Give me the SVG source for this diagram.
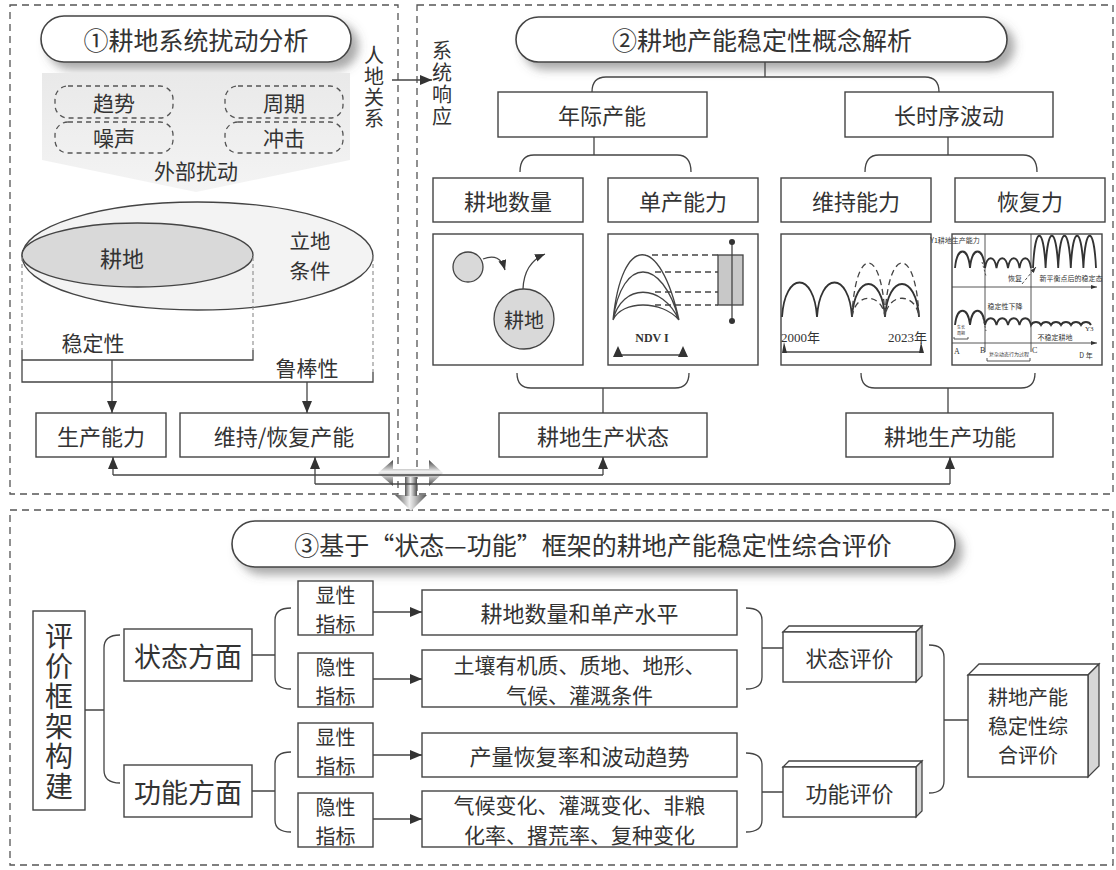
<svg xmlns="http://www.w3.org/2000/svg" width="1116" height="870" viewBox="0 0 1116 870">
<defs>
<style>
.t{font-family:"Noto Sans CJK SC","Noto Sans",sans-serif;fill:#333;text-anchor:middle;dominant-baseline:central}
.v{writing-mode:vertical-rl}
.s{font-family:"Liberation Serif","Noto Sans CJK SC",serif;fill:#333;dominant-baseline:central}
.f25{font-size:25px}.f22{font-size:22px}.f21{font-size:21px}.f20{font-size:20px}.f27{font-size:27px}.f28{font-size:28px}
.f7{font-size:7px}.f4{font-size:4px}.f5{font-size:5px}
.box{fill:#fff;stroke:#444;stroke-width:1.4}
.pill{fill:#fff;stroke:#444;stroke-width:1.6}
.panel{fill:none;stroke:#555;stroke-width:1.3;stroke-dasharray:7 5}
.ln{fill:none;stroke:#444;stroke-width:1.3}
.dash{fill:none;stroke:#444;stroke-width:1.3;stroke-dasharray:6 4}
.gdash{fill:none;stroke:#8a8a8a;stroke-width:1.1;stroke-dasharray:4 3}
.rbox{fill:none;stroke:#555;stroke-width:1.3;stroke-dasharray:5 4}
.wave{fill:none;stroke:#333;stroke-width:1.8}
.thin{fill:none;stroke:#444;stroke-width:0.9}
</style>
<marker id="ah" markerUnits="userSpaceOnUse" markerWidth="12" markerHeight="10" refX="12" refY="5" orient="auto"><path d="M0,0 L12,5 L0,10 Z" fill="#333"/></marker>
<marker id="ahs" markerUnits="userSpaceOnUse" markerWidth="10" markerHeight="8" refX="10" refY="4" orient="auto"><path d="M0,0 L10,4 L0,8 Z" fill="#333"/></marker>
<marker id="aht" markerUnits="userSpaceOnUse" markerWidth="6" markerHeight="4" refX="6" refY="2" orient="auto"><path d="M0,0 L6,2 L0,4 Z" fill="#333"/></marker>
<filter id="sh" x="-10%" y="-50%" width="125%" height="220%"><feDropShadow dx="7" dy="7" stdDeviation="5" flood-color="#555" flood-opacity="0.5"/></filter>
<linearGradient id="gArea" x1="0" y1="0" x2="0" y2="1"><stop offset="0" stop-color="#e9e9e9"/><stop offset="1" stop-color="#f4f4f4"/></linearGradient>
<linearGradient id="gH" x1="0" y1="0" x2="0" y2="1"><stop offset="0" stop-color="#3f3f3f"/><stop offset="0.45" stop-color="#f2f2f2"/><stop offset="0.6" stop-color="#d0d0d0"/><stop offset="1" stop-color="#4a4a4a"/></linearGradient>
<linearGradient id="gV" x1="0" y1="0" x2="1" y2="0"><stop offset="0" stop-color="#555"/><stop offset="0.45" stop-color="#f0f0f0"/><stop offset="0.6" stop-color="#c8c8c8"/><stop offset="1" stop-color="#505050"/></linearGradient>
</defs>
<rect x="0" y="0" width="1116" height="870" fill="#fff"/>

<!-- panels -->
<g id="panels">
<rect class="panel" x="10" y="5" width="388" height="489"/>
<rect class="panel" x="417" y="5" width="696" height="489"/>
<rect class="panel" x="10" y="510" width="1103" height="355"/>
</g>

<!-- ===== Panel 1 ===== -->
<g id="title1">
<rect class="pill" x="41" y="16" width="310" height="46" rx="23" filter="url(#sh)"/>
<text class="t f25" x="196" y="39">①耕地系统扰动分析</text>
</g>
<g id="disturbance">
<polygon points="42,73 350,73 350,160 196,192 42,160" fill="url(#gArea)"/>
<rect class="rbox" x="55" y="86" width="118" height="32" rx="13"/>
<rect class="rbox" x="225" y="86" width="118" height="32" rx="13"/>
<rect class="rbox" x="55" y="122" width="118" height="31" rx="13"/>
<rect class="rbox" x="225" y="122" width="118" height="31" rx="13"/>
<text class="t f21" x="114" y="102">趋势</text>
<text class="t f21" x="284" y="102">周期</text>
<text class="t f21" x="114" y="137">噪声</text>
<text class="t f21" x="284" y="137">冲击</text>
<text class="t f21" x="196" y="170">外部扰动</text>
</g>
<g id="renDi">
<text class="t v f20" letter-spacing="1" x="374" y="87">人地关系</text>
</g>
<g id="xitong">
<text class="t v f20" letter-spacing="2" x="442" y="84">系统响应</text>
</g>
<g id="ellipses">
<ellipse cx="197.5" cy="256" rx="175.5" ry="54" fill="#f3f3f3" stroke="#444" stroke-width="1.3"/>
<ellipse cx="137.5" cy="255" rx="115.5" ry="32" fill="#d9d9d9" stroke="#444" stroke-width="1.3"/>
<text class="t f22" x="122" y="257">耕地</text>
<text class="t" font-size="20.5"><tspan x="310" y="240">立地</tspan><tspan x="310" y="270">条件</tspan></text>
</g>
<g id="stability">
<path class="gdash" d="M22,257 V350 M253,257 V350 M373,257 V372"/>
<path class="ln" d="M22,350 V382 H373 V372 M22,360 H253 V350"/>
<text class="t f21" x="93" y="342">稳定性</text>
<text class="t f21" x="307" y="367">鲁棒性</text>
</g>
<g id="shengchan">
<rect class="box" x="36" y="413" width="130" height="44"/>
<text class="t f22" x="101" y="435">生产能力</text>
</g>
<g id="weichi">
<rect class="box" x="180" y="413" width="209" height="44"/>
<text class="t f22" x="284" y="435">维持/恢复产能</text>
</g>

<!-- ===== Panel 2 ===== -->
<g id="title2">
<rect class="pill" x="516" y="17" width="491" height="45" rx="22.5" filter="url(#sh)"/>
<text class="t f25" x="762" y="39">②耕地产能稳定性概念解析</text>
</g>
<g id="nianji"><rect class="box" x="498" y="92" width="209" height="45"/><text class="t f22" x="602" y="114">年际产能</text></g>
<g id="changshi"><rect class="box" x="845" y="92" width="208" height="45"/><text class="t f22" x="949" y="114">长时序波动</text></g>
<g id="gengdi-shuliang"><rect class="box" x="433" y="178" width="150" height="44"/><text class="t f22" x="508" y="200">耕地数量</text></g>
<g id="danchan"><rect class="box" x="608" y="178" width="150" height="44"/><text class="t f22" x="683" y="200">单产能力</text></g>
<g id="weichi-nengli"><rect class="box" x="781" y="178" width="150" height="44"/><text class="t f22" x="856" y="200">维持能力</text></g>
<g id="huifuli"><rect class="box" x="955" y="178" width="150" height="44"/><text class="t f22" x="1030" y="200">恢复力</text></g>

<g id="chart1">
<rect class="box" x="433" y="234" width="150" height="131"/>
<circle cx="468" cy="267" r="15" fill="#d9d9d9" stroke="#444" stroke-width="1.3"/>
<path class="ln" d="M483,259 Q500,252 505,270" marker-end="url(#ahs)"/>
<circle cx="524" cy="319" r="30" fill="#d9d9d9" stroke="#444" stroke-width="1.3"/>
<text class="t" font-size="20" x="524" y="319">耕地</text>
<path class="ln" d="M523,289 Q524,263 545,254" marker-end="url(#ahs)"/>
</g>
<g id="chart2">
<rect class="box" x="608" y="234" width="150" height="131"/>
<path class="ln" d="M613,320 C622,233 660,233 679,320 M613,320 C622,256 662,256 679,320 M613,320 C622,283 662,283 679,320 M613,320 C622,300 662,300 679,320"/>
<path class="dash" d="M652,255 H718 M655,272 H718 M655,292 H718 M655,305 H718"/>
<rect x="718" y="255" width="25" height="50" fill="#c8c8c8" stroke="#444" stroke-width="1.3"/>
<path class="ln" d="M732,242 V321"/>
<circle cx="732" cy="242" r="3" fill="#333"/>
<circle cx="732" cy="321" r="3" fill="#333"/>
<text class="s" font-size="12" font-weight="bold" fill="#555" text-anchor="middle" x="652" y="338">NDV I</text>
<path class="ln" d="M618,355 H683"/>
<path d="M618,346 L613,357 L623,357 Z M683,346 L678,357 L688,357 Z" fill="#333"/>
</g>
<g id="chart3">
<rect class="box" x="781" y="234" width="150" height="131"/>
<path class="wave" stroke-width="1.6" d="M782,317 C785,271 814,271 817,317 C820,271 849,271 852,317 C855,273 882,273 885,317 C888,273 916,273 919,317"/>
<path class="dash" stroke-width="1.5" d="M852,317 C855,245 882,245 885,317 C888,245 916,245 919,317 M852,317 C855,292 882,292 885,317 C888,292 916,292 919,317"/>
<text class="s" font-size="13" x="781" y="337">2000年</text>
<text class="s" font-size="13" text-anchor="end" x="927" y="337">2023年</text>
<path class="ln" d="M784,352 H921"/>
<path d="M784,342 L782,353 L787,353 Z M921,342 L919,353 L924,353 Z" fill="#333"/>
</g>
<g id="chart4">
<rect class="box" x="952" y="234" width="150" height="131"/>
<path class="thin" d="M985,234 V352 M1031,234 V352"/>
<path class="thin" d="M952,287 H1097" marker-end="url(#aht)"/>
<path class="thin" d="M952,343 H1097" marker-end="url(#aht)"/>
<path class="wave" d="M955,268 C957,246 968,246 970,268 C972,246 983,246 985,268 C987,255 994.5,255 996.5,268 C998.5,255 1006,255 1008,268 C1010,255 1017.5,255 1019.5,268 C1021.5,255 1029,255 1031,268"/>
<path class="wave" d="M1033,268 C1035,225 1043.6,225 1045.6,268 C1047.6,225 1056.2,225 1058.2,268 C1060.2,225 1068.8,225 1070.8,268 C1072.8,225 1081.4,225 1083.4,268 C1085.4,225 1094,225 1096,268"/>
<path class="wave" d="M955,325 C957,306 968,306 970,325 C972,306 983,306 985,325 C987,316 994.5,316 996.5,325 C998.5,316 1006,316 1008,325 C1010,316 1017.5,316 1019.5,325 C1021.5,316 1029,316 1031,325 C1033,321 1039,321 1041,325 C1043,321 1049,321 1051,325 C1053,321 1059,321 1061,325 C1063,321 1069,321 1071,325 C1073,321 1079,321 1081,325 C1083,321 1089,321 1091,325"/>
<path class="thin" stroke-dasharray="2 2" d="M982,262 L986,276 M983,318 L986,331"/>
<path class="thin" stroke-dasharray="3 2" d="M1022,284 L1036,267" marker-end="url(#aht)"/>
<text class="t f7" text-anchor="start" x="955" y="240">Y1耕地生产能力</text>
<text class="t f7" x="1015" y="278">恢复</text>
<text class="t f7" x="1071" y="278">新平衡点后的稳定态</text>
<text class="t f7" x="1005" y="306">稳定性下降</text>
<text class="t f4"><tspan x="961" y="327">生长</tspan><tspan x="961" y="333">周期</tspan></text>
<path class="thin" d="M954,337 V339 H968 V337"/>
<text class="t f7" x="1055" y="337">不稳定耕地</text>
<text class="s f7" x="1085" y="329">Y3</text>
<text class="s" font-size="8" x="954" y="351">A</text>
<text class="s" font-size="8" x="980" y="350">B</text>
<text class="s" font-size="8" x="1032" y="350">C</text>
<text class="t f7" text-anchor="start" x="1086" y="355">D 年</text>
<text class="t f5" x="1009" y="353">复杂动态行为过程</text>
<path class="thin" d="M987,358 V361 H1030 V358"/>
</g>
<g id="zhuangtai"><rect class="box" x="499" y="413" width="208" height="44"/><text class="t f22" x="603" y="435">耕地生产状态</text></g>
<g id="gongneng"><rect class="box" x="846" y="413" width="207" height="44"/><text class="t f22" x="950" y="435">耕地生产功能</text></g>

<!-- big 3D arrow -->
<g id="bigArrow">
<polygon points="395,495 427,495 411,511" fill="url(#gV)"/>
<rect x="405" y="474" width="12" height="22" fill="url(#gV)"/>
<polygon points="378,473 393,460 393,469 429,469 429,460 443,473 429,486 429,477 393,477 393,486" fill="url(#gH)"/>
</g>

<!-- ===== Panel 3 ===== -->
<g id="title3">
<rect class="pill" x="232" y="521" width="723" height="46" rx="23" filter="url(#sh)"/>
<text class="t f25" x="593" y="544">③基于“状态—功能”框架的耕地产能稳定性综合评价</text>
</g>
<g id="pingjia">
<rect class="box" x="33" y="611" width="52" height="199"/>
<text class="t v f28" letter-spacing="2" x="59" y="712">评价框架构建</text>
</g>
<g id="zhuangtai-fangmian"><rect class="box" x="124" y="629" width="128" height="52"/><text class="t f27" x="188" y="655">状态方面</text></g>
<g id="gongneng-fangmian"><rect class="box" x="124" y="765" width="128" height="52"/><text class="t f27" x="188" y="791">功能方面</text></g>
<g id="xian1"><rect class="box" x="298" y="581" width="75" height="54"/><text class="t f20"><tspan x="335.5" y="593.5">显性</tspan><tspan x="335.5" y="622.5">指标</tspan></text></g>
<g id="yin1"><rect class="box" x="298" y="653" width="75" height="54"/><text class="t f20"><tspan x="335.5" y="665.5">隐性</tspan><tspan x="335.5" y="694.5">指标</tspan></text></g>
<g id="xian2"><rect class="box" x="298" y="723" width="75" height="54"/><text class="t f20"><tspan x="335.5" y="735.5">显性</tspan><tspan x="335.5" y="764.5">指标</tspan></text></g>
<g id="yin2"><rect class="box" x="298" y="793" width="75" height="54"/><text class="t f20"><tspan x="335.5" y="805.5">隐性</tspan><tspan x="335.5" y="834.5">指标</tspan></text></g>
<g id="c1"><rect class="box" x="422" y="590" width="315" height="45"/><text class="t f22" x="579.5" y="612">耕地数量和单产水平</text></g>
<g id="c2"><rect class="box" x="422" y="650" width="315" height="57"/><text class="t" font-size="21"><tspan x="579.5" y="663.5">土壤有机质、质地、地形、</tspan><tspan x="579.5" y="693.5">气候、灌溉条件</tspan></text></g>
<g id="c3"><rect class="box" x="422" y="733" width="315" height="44"/><text class="t f22" x="579.5" y="755">产量恢复率和波动趋势</text></g>
<g id="c4"><rect class="box" x="422" y="791" width="315" height="56"/><text class="t" font-size="21"><tspan x="579.5" y="804">气候变化、灌溉变化、非粮</tspan><tspan x="579.5" y="834">化率、撂荒率、复种变化</tspan></text></g>
<g id="eval-state">
<polygon points="783,632 789,626 922,626 916,632" fill="#fff" stroke="#444" stroke-width="1.3"/>
<polygon points="916,632 922,626 922,676 916,682" fill="#d6d6d6" stroke="#444" stroke-width="1.3"/>
<rect class="box" x="783" y="632" width="133" height="50"/>
<text class="t f22" x="849.5" y="657">状态评价</text>
</g>
<g id="eval-func">
<polygon points="783,767 789,761 922,761 916,767" fill="#fff" stroke="#444" stroke-width="1.3"/>
<polygon points="916,767 922,761 922,811 916,817" fill="#d6d6d6" stroke="#444" stroke-width="1.3"/>
<rect class="box" x="783" y="767" width="133" height="50"/>
<text class="t f22" x="849.5" y="792">功能评价</text>
</g>
<g id="eval-total">
<polygon points="968,675 979,664 1099,664 1088,675" fill="#fff" stroke="#444" stroke-width="1.3"/>
<polygon points="1088,675 1099,664 1099,766 1088,777" fill="#d6d6d6" stroke="#444" stroke-width="1.3"/>
<rect class="box" x="968" y="675" width="120" height="102"/>
<text class="t f20"><tspan x="1028" y="696">耕地产能</tspan><tspan x="1028" y="725">稳定性综</tspan><tspan x="1028" y="754">合评价</tspan></text>
</g>

<!-- ===== Connectors ===== -->
<g id="connectors" class="ln">
<path d="M392,80 H432" marker-end="url(#ah)"/>
<path d="M112,360 V413" marker-end="url(#ah)"/>
<path d="M307,382 V413" marker-end="url(#ah)"/>
<path d="M113,475 H603"/>
<path d="M113,475 V457" marker-end="url(#ah)"/>
<path d="M603,475 V457" marker-end="url(#ah)"/>
<path d="M315,484 H950"/>
<path d="M315,484 V457" marker-end="url(#ah)"/>
<path d="M950,484 V457" marker-end="url(#ah)"/>
<path d="M765,62 V77 M592,92 Q592,77 606,77 H925 Q939,77 939,92"/>
<path d="M594,137 V155 M520,172 Q520,155 534,155 H677 Q691,155 691,172"/>
<path d="M948,137 V155 M865,172 Q865,155 879,155 H1023 Q1037,155 1037,172"/>
<path d="M517,373 Q517,388 531,388 H675 Q689,388 689,373 M603,388 V413"/>
<path d="M861,373 Q861,388 875,388 H1021 Q1035,388 1035,373 M948,388 V413"/>
<path d="M85,710 H104 M120,635 Q104,635 104,648 V770 Q104,783 120,783"/>
<path d="M252,655 H275 M291,608 Q275,608 275,620 V677 Q275,689 291,689"/>
<path d="M252,791 H275 M291,752 Q275,752 275,764 V820 Q275,832 291,832"/>
<path d="M373,612 H422" marker-end="url(#ah)"/>
<path d="M373,679 H422" marker-end="url(#ah)"/>
<path d="M373,755 H422" marker-end="url(#ah)"/>
<path d="M373,819 H422" marker-end="url(#ah)"/>
<path d="M746,608 Q762,608 762,620 V677 Q762,689 746,689 M762,648 H783"/>
<path d="M746,753 Q762,753 762,765 V820 Q762,832 746,832 M762,792 H783"/>
<path d="M929,645 Q944,645 944,657 V781 Q944,793 929,793 M944,720 H968"/>
</g>
</svg>
